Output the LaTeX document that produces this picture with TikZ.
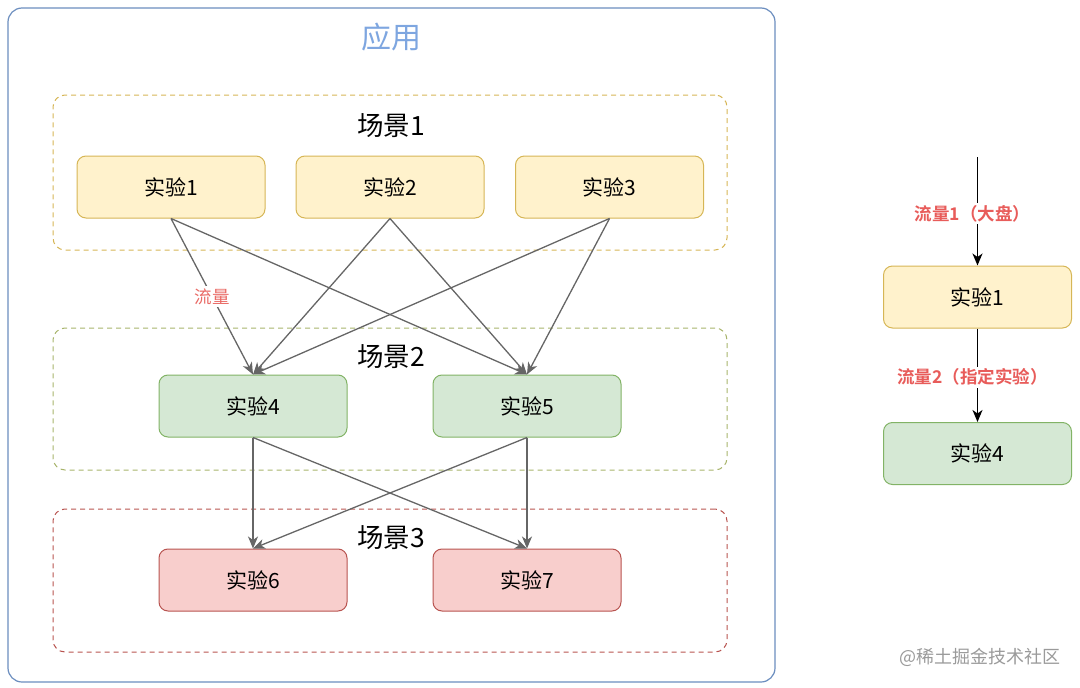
\documentclass[tikz,border=0pt]{standalone}
\usepackage{fontspec}
\setmainfont{Noto Sans CJK SC}[BoldFont={Noto Sans CJK SC Bold}]
\usetikzlibrary{arrows.meta}
\definecolor{appblue}{HTML}{6C8EBF}
\definecolor{titleblue}{HTML}{7EA6E0}
\definecolor{yfill}{HTML}{FFF2CC}
\definecolor{ydraw}{HTML}{D6B656}
\definecolor{gfill}{HTML}{D5E8D4}
\definecolor{gdraw}{HTML}{82B366}
\definecolor{rfill}{HTML}{F8CECC}
\definecolor{rdraw}{HTML}{B85450}
\definecolor{s2draw}{HTML}{A8B46C}
\definecolor{flowred}{HTML}{E85C5A}
\definecolor{flowpink}{HTML}{EA6B66}
\definecolor{arrgray}{HTML}{666666}
\definecolor{wmgray}{HTML}{9A9A9A}
\begin{document}
\begin{tikzpicture}[x=1pt,y=-1pt,
  expbox/.style={draw, rounded corners=9pt, minimum width=188pt, minimum height=62pt,
    line width=1pt, inner sep=0pt, font=\fontsize{21}{21}\selectfont},
  ybox/.style={expbox, fill=yfill, draw=ydraw},
  gbox/.style={expbox, fill=gfill, draw=gdraw},
  rbox/.style={expbox, fill=rfill, draw=rdraw},
  scenebox/.style={rounded corners=12pt, minimum width=674pt, minimum height=#1, line width=1pt,
    dash pattern=on 5pt off 4pt, inner sep=0pt},
  scenelabel/.style={font=\fontsize{26.5}{26.5}\selectfont, inner sep=1pt},
  flowarr/.style={draw=arrgray, line width=1.3pt, -{Stealth[length=12pt,width=10pt,inset=3.5pt]}},
  blackarr/.style={draw=black, line width=1.3pt, -{Stealth[length=12pt,width=10pt,inset=3.5pt]}},
  flowlabel/.style={text=flowred, fill=white, inner sep=2pt, font=\bfseries\fontsize{17.5}{17.5}\selectfont},
  pinklabel/.style={text=flowpink, fill=white, inner sep=2pt, font=\fontsize{17.5}{17.5}\selectfont}
]
\useasboundingbox (0,0) rectangle (1080,688);
% application box
\node[draw=appblue, line width=1.2pt, rounded corners=14pt, minimum width=767pt, minimum height=674pt, inner sep=0pt] (app) at (391.5,345) {};
\node[text=titleblue, font=\fontsize{30}{30}\selectfont] (apptitle) at (391,37) {应用};
% scenes
\node[scenebox=155pt, draw=ydraw] (s1) at (390,172.5) {};
\node[scenebox=142pt, draw=s2draw] (s2) at (390,399) {};
\node[scenebox=143pt, draw=rdraw] (s3) at (390,580.5) {};
\node[scenelabel] (s1l) at (391,126) {场景1};
\node[scenelabel] (s2l) at (391,357) {场景2};
\node[scenelabel] (s3l) at (391,538) {场景3};
% experiments
\node[ybox] (e1) at (171,187) {实验1};
\node[ybox] (e2) at (390,187) {实验2};
\node[ybox] (e3) at (609.5,187) {实验3};
\node[gbox] (e4) at (253,406) {实验4};
\node[gbox] (e5) at (527,406) {实验5};
\node[rbox] (e6) at (253,580) {实验6};
\node[rbox] (e7) at (527,580) {实验7};
% arrows
\draw[flowarr] (e1.south) -- (e4.north) node[midway, pinklabel] {流量};
\draw[flowarr] (e1.south) -- (e5.north);
\draw[flowarr] (e2.south) -- (e4.north);
\draw[flowarr] (e2.south) -- (e5.north);
\draw[flowarr] (e3.south) -- (e4.north);
\draw[flowarr] (e3.south) -- (e5.north);
\draw[flowarr] (e4.south) -- (e6.north);
\draw[flowarr] (e4.south) -- (e7.north);
\draw[flowarr] (e5.south) -- (e6.north);
\draw[flowarr] (e5.south) -- (e7.north);
% right side
\coordinate (rstart) at (977.5,157);
\node[ybox] (r1) at (977.5,297) {实验1};
\node[gbox] (r4) at (977.5,453.5) {实验4};
\draw[blackarr] (rstart) -- (r1.north) node[pos=0.52, flowlabel, xshift=-5pt] {流量1（大盘）};
\draw[blackarr] (r1.south) -- (r4.north) node[pos=0.52, flowlabel, xshift=-5pt] {流量2（指定实验）};
% watermark
\node[text=wmgray, font=\fontsize{18}{18}\selectfont] (wm) at (980,657) {@稀土掘金技术社区};
\end{tikzpicture}
\end{document}
